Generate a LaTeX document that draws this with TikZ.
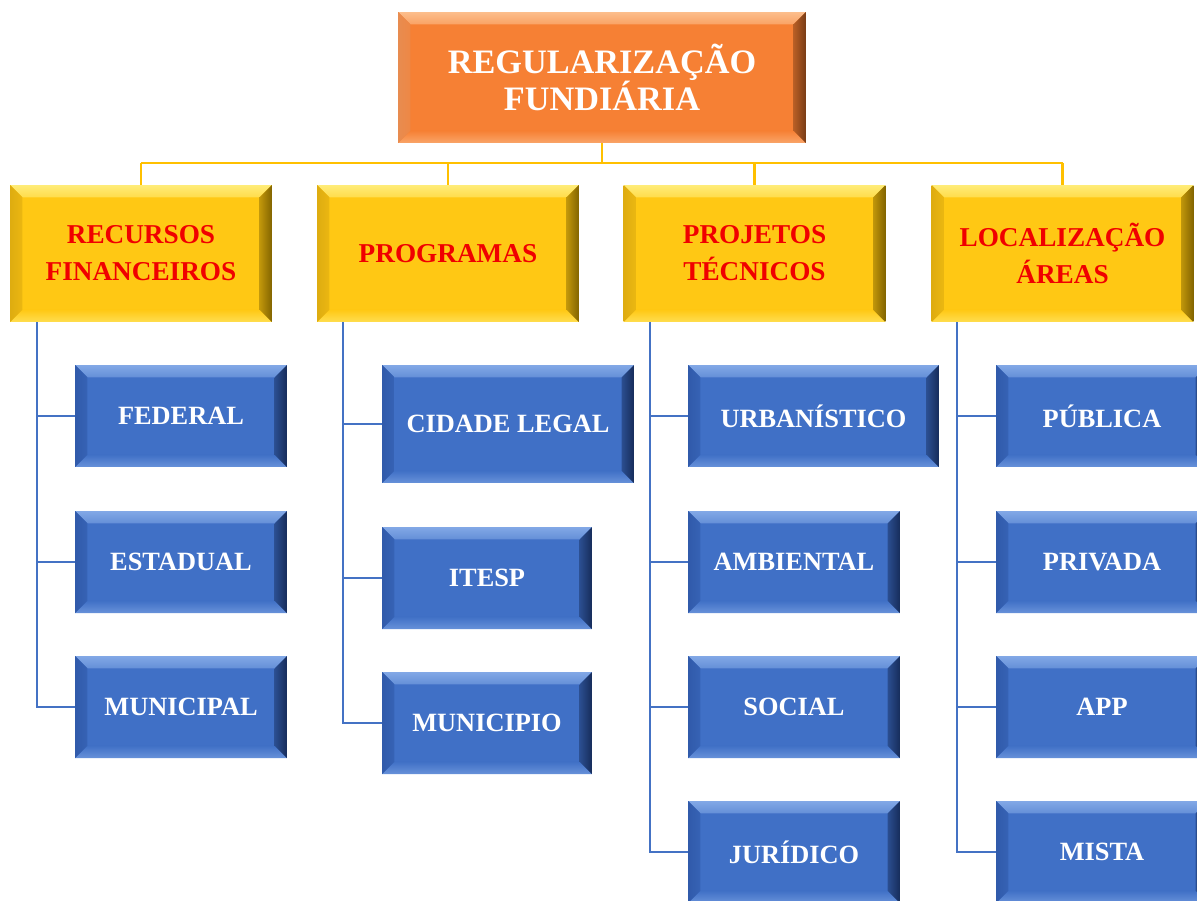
\documentclass[tikz,border=0pt]{standalone}
\usepackage{fontspec}
\setmainfont{Liberation Serif}
\usepackage{tikz}

\definecolor{laranja}{RGB}{246,128,52}
\definecolor{laranjaclaro}{RGB}{252,190,140}
\definecolor{laranjaescuro}{RGB}{120,60,22}
\definecolor{laranjamedio}{RGB}{232,140,80}
\definecolor{ouro}{RGB}{255,200,20}
\definecolor{ouroclaro}{RGB}{255,236,120}
\definecolor{ouroescuro}{RGB}{130,100,0}
\definecolor{ouromedio}{RGB}{222,172,16}
\definecolor{azul}{RGB}{64,112,198}
\definecolor{azulclaro}{RGB}{130,168,230}
\definecolor{azulescuro}{RGB}{22,44,90}
\definecolor{azulmedio}{RGB}{48,90,170}
\definecolor{linhaouro}{RGB}{255,192,0}
\definecolor{linhaazul}{RGB}{68,114,196}
\definecolor{vermelho}{RGB}{240,0,0}

\tikzset{
  chanfro/.style n args={4}{rectangle, inner sep=0pt, fill=#1,
    path picture={
      \path (path picture bounding box.north west) coordinate (nw)
            (path picture bounding box.north east) coordinate (ne)
            (path picture bounding box.south west) coordinate (sw)
            (path picture bounding box.south east) coordinate (se);
      \shade[top color=#2, bottom color=#2!55!#1] (nw) -- (ne) -- ([shift={(-7pt,-7pt)}]ne) -- ([shift={(7pt,-7pt)}]nw) -- cycle;
      \shade[top color=#1, bottom color=#2!60!#1] (sw) -- (se) -- ([shift={(-7pt,7pt)}]se) -- ([shift={(7pt,7pt)}]sw) -- cycle;
      \shade[left color=#4, right color=#4!60!#1] (nw) -- (sw) -- ([shift={(7pt,7pt)}]sw) -- ([shift={(7pt,-7pt)}]nw) -- cycle;
      \shade[left color=#3!50!#1, right color=#3] (ne) -- (se) -- ([shift={(-7pt,7pt)}]se) -- ([shift={(-7pt,-7pt)}]ne) -- cycle;
    }},
  raiz/.style={chanfro={laranja}{laranjaclaro}{laranjaescuro}{laranjamedio},
    minimum width=8.16cm, minimum height=2.62cm, text=white,
    font=\bfseries\fontsize{19.5}{21}\selectfont, align=center},
  ramo/.style={chanfro={ouro}{ouroclaro}{ouroescuro}{ouromedio},
    minimum width=5.24cm, minimum height=2.74cm, text=vermelho,
    font=\bfseries\fontsize{15.5}{21}\selectfont, align=center},
  folha/.style={chanfro={azul}{azulclaro}{azulescuro}{azulmedio},
    minimum width=4.24cm, minimum height=2.04cm, text=white,
    font=\bfseries\fontsize{15}{18}\selectfont, align=center},
  ligaouro/.style={draw=linhaouro, line width=1.6pt},
  ligaazul/.style={draw=linhaazul, line width=1.3pt}
}

\begin{document}
\begin{tikzpicture}[x=0.02cm, y=-0.02cm]
\useasboundingbox (0,0) rectangle (1197,900);
\clip (0,0) rectangle (1197,900);

\node[raiz] (reg) at (602,77.5) {REGULARIZAÇÃO\\FUNDIÁRIA};

\node[ramo] (rec) at (141,253.5) {RECURSOS\\FINANCEIROS};
\node[ramo] (prog) at (448,253.5) {PROGRAMAS};
\node[ramo] (proj) at (754.5,253.5) {PROJETOS\\TÉCNICOS};
\node[ramo] (loc) at (1062.5,253.5) {LOCALIZAÇÃO\\ÁREAS};

\node[folha] (fed) at (181,416) {FEDERAL};
\node[folha] (est) at (181,562) {ESTADUAL};
\node[folha] (mun) at (181,707) {MUNICIPAL};

\node[folha, minimum width=5.04cm, minimum height=2.36cm] (cid) at (508,424) {CIDADE LEGAL};
\node[folha, minimum width=4.2cm] (itesp) at (487,578) {ITESP};
\node[folha, minimum width=4.2cm] (munic) at (487,723) {MUNICIPIO};

\node[folha, minimum width=5.02cm] (urb) at (813.5,416) {URBANÍSTICO};
\node[folha] (amb) at (794,562) {AMBIENTAL};
\node[folha] (soc) at (794,707) {SOCIAL};
\node[folha] (jur) at (794,852) {JURÍDICO};

\node[folha] (pub) at (1102,416) {PÚBLICA};
\node[folha] (pri) at (1102,562) {PRIVADA};
\node[folha] (app) at (1102,707) {APP};
\node[folha] (mis) at (1102,852) {MISTA};

\coordinate (barra) at (0,163);
\draw[ligaouro] (reg.south) -- (reg.south |- barra);
\draw[ligaouro] (rec.north |- barra) -- (loc.north |- barra);
\foreach \r in {rec,prog,proj,loc}
  \draw[ligaouro] (\r.north |- barra) -- (\r.north);

\foreach \r/\xe/\fs in {rec/37/{fed,est,mun}, prog/343/{cid,itesp,munic},
    proj/650/{urb,amb,soc,jur}, loc/957/{pub,pri,app,mis}}{
  \coordinate (esp) at (\xe,0);
  \foreach \f in \fs
    \draw[ligaazul] (esp |- \r.south) |- (\f.west);
}
\end{tikzpicture}
\end{document}
